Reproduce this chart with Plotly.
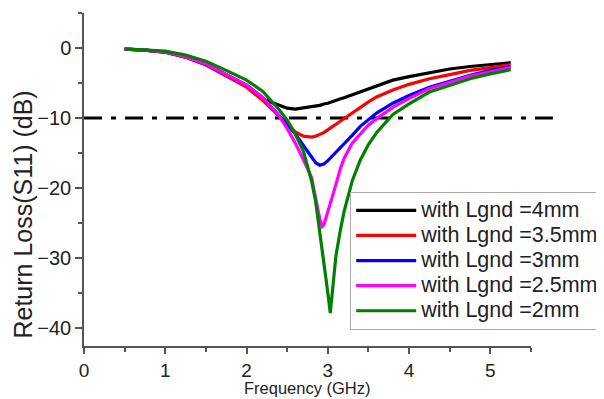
import plotly.graph_objects as go

freq = [0.5, 0.75, 1.0, 1.25, 1.5, 1.75, 2.0, 2.2, 2.4, 2.5, 2.6, 2.7, 2.8, 2.85, 2.9, 2.93, 2.95,
        3.0, 3.03, 3.06, 3.1, 3.15, 3.2, 3.3, 3.4, 3.5, 3.6, 3.8, 4.0, 4.25, 4.5, 4.75, 5.0, 5.25]

s11_4mm = [-0.15, -0.3, -0.6, -1.3, -2.4, -4.0, -5.5, -7.3, -8.2, -8.6, -8.75, -8.6, -8.4, -8.3, -8.2, -8.1, -8.0,
           -7.9, -7.8, -7.7, -7.5, -7.3, -7.1, -6.7, -6.2, -5.8, -5.4, -4.6, -4.1, -3.5, -3.0, -2.65, -2.35, -2.1]
s11_3p5mm = [-0.15, -0.3, -0.6, -1.3, -2.4, -4.0, -5.6, -7.5, -9.8, -11.0, -12.0, -12.6, -12.75, -12.6, -12.4, -12.25, -12.1,
             -11.7, -11.5, -11.2, -10.9, -10.5, -10.1, -9.2, -8.4, -7.7, -7.0, -6.0, -5.2, -4.4, -3.8, -3.2, -2.8, -2.4]
s11_3mm = [-0.15, -0.3, -0.58, -1.25, -2.3, -3.8, -5.3, -7.1, -9.6, -10.9, -12.3, -14.0, -15.7, -16.4, -16.75, -16.7, -16.6,
           -16.1, -15.8, -15.4, -14.9, -14.3, -13.8, -12.5, -11.2, -10.2, -9.3, -7.9, -6.8, -5.6, -4.7, -3.9, -3.2, -2.7]
s11_2p5mm = [-0.15, -0.3, -0.58, -1.25, -2.3, -3.8, -5.3, -7.1, -9.7, -11.5, -13.6, -16.0, -18.5, -21.5, -24.4, -25.5, -25.3,
             -23.4, -22.3, -21.2, -19.5, -17.4, -15.8, -13.6, -12.3, -11.0, -10.1, -8.5, -7.2, -5.8, -4.9, -4.0, -3.4, -2.8]
s11_2mm = [-0.12, -0.25, -0.45, -1.0, -1.9, -3.2, -4.6, -6.2, -8.8, -10.3, -12.3, -14.8, -19.0, -21.9, -26.0, -28.9, -30.5,
           -35.0, -37.9, -34.5, -29.7, -26.3, -23.4, -19.0, -16.0, -13.8, -12.1, -9.5, -8.0, -6.3, -5.3, -4.4, -3.7, -3.1]

series_names = ["with Lgnd =4mm", "with Lgnd =3.5mm", "with Lgnd =3mm", "with Lgnd =2.5mm", "with Lgnd =2mm"]
series_values = [s11_4mm, s11_3p5mm, s11_3mm, s11_2p5mm, s11_2mm]
series_colors = ["#000000", "#FF0000", "#0000FF", "#FF00FF", "#008000"]

threshold_db = -10
x_ticks = [0, 1, 2, 3, 4, 5]
y_ticks = [0, -10, -20, -30, -40]
x_title = "Frequency (GHz)"
y_title = "Return Loss(S11) (dB)"

FONT = "Liberation Sans, Arial, sans-serif"
AXC = "#555555"
TXT = "#222222"

fig = go.Figure()
for name, vals, col in zip(series_names, series_values, series_colors):
    fig.add_trace(go.Scatter(x=freq, y=vals, mode="lines",
                             name='<span style="font-size:21.5px">' + name + '</span>',
                             line=dict(color=col, width=3.2)))

fig.add_shape(type="line", xref="paper", yref="y", x0=0, x1=1.049, y0=threshold_db, y1=threshold_db,
              line=dict(color="black", width=3, dash="18px,9px,5px,9px"), layer="below")

fig.add_annotation(text=y_title, textangle=-90, xref="paper", yref="paper", x=-0.137, y=0.394,
                   xanchor="center", yanchor="middle", showarrow=False,
                   font=dict(size=25, family=FONT, color=TXT))
fig.add_annotation(text=x_title, xref="paper", yref="paper", x=0.5, y=-0.157,
                   xanchor="center", yanchor="bottom", showarrow=False, borderpad=0,
                   font=dict(size=16.5, family=FONT, color=TXT))

fig.update_layout(
    width=604, height=399,
    margin=dict(l=75.5, r=81, t=5, b=60.5, autoexpand=False),
    paper_bgcolor="white", plot_bgcolor="white",
    font=dict(family=FONT, color=TXT),
    showlegend=True,
    legend=dict(x=0.5955, y=0.463, xanchor="left", yanchor="top",
                bordercolor="#aaaaaa", borderwidth=1, bgcolor="white",
                font=dict(size=17, family=FONT, color=TXT),
                itemwidth=60, tracegroupgap=0),
)
fig.update_xaxes(range=[0, 5.5], tickvals=x_ticks, ticks="outside", ticklen=6, tickwidth=1.5, automargin=False,
                 tickcolor=AXC, showline=True, linecolor=AXC, linewidth=1.5, showgrid=False, zeroline=False,
                 tickfont=dict(size=19, family=FONT, color=TXT), ticklabelstandoff=0,
                 minor=dict(dtick=0.5, ticks="outside", ticklen=4, tickcolor=AXC, tickwidth=1.5, showgrid=False))
fig.update_yaxes(range=[-42.6, 5], tickvals=y_ticks, ticks="outside", ticklen=7, tickwidth=1.5, automargin=False,
                 tickcolor=AXC, showline=True, linecolor=AXC, linewidth=1.5, showgrid=False, zeroline=False,
                 tickfont=dict(size=20, family=FONT, color=TXT),
                 minor=dict(dtick=5, tick0=0, ticks="outside", ticklen=4, tickcolor=AXC, tickwidth=1.5, showgrid=False))

fig.write_html("out.html")
